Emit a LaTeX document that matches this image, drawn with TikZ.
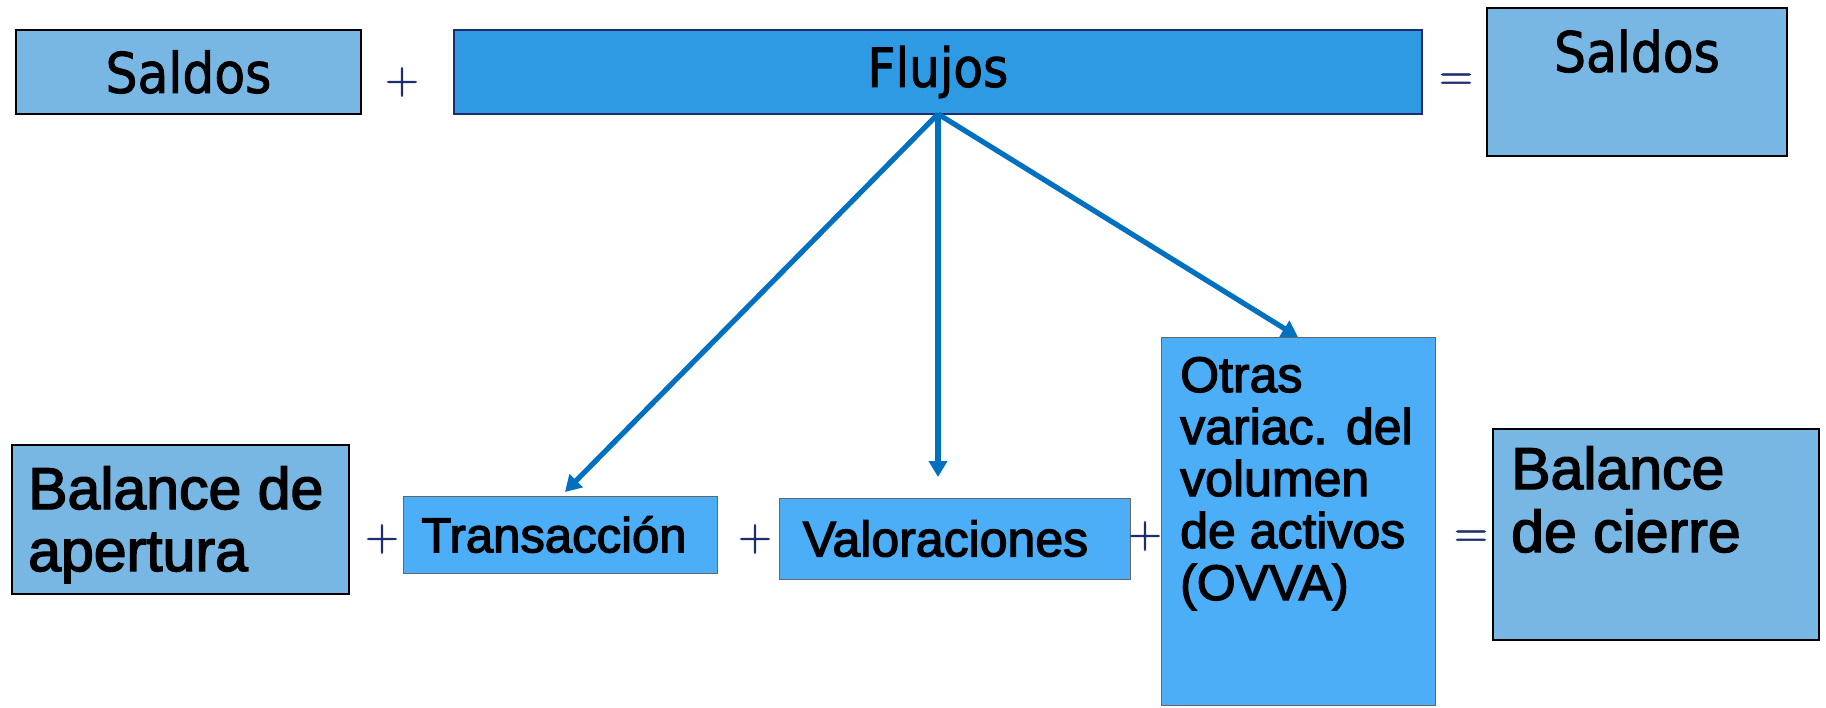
\documentclass[tikz,border=0pt]{standalone}
\usepackage{fontspec}
\setmainfont{Liberation Sans}[FakeBold=2.5]
\newfontfamily\tahomalike{DejaVu Sans Condensed}[FakeBold=1.5]
\newfontfamily\lmr{Latin Modern Roman}[FakeBold=1.2]
\usetikzlibrary{arrows.meta,calc}
\definecolor{saldofill}{RGB}{120,183,227}
\definecolor{flujofill}{RGB}{46,154,227}
\definecolor{itemfill}{RGB}{75,174,247}
\definecolor{opnavy}{RGB}{31,45,110}
\definecolor{arrowblue}{RGB}{0,112,192}
\newcommand{\fsz}[2]{\fontsize{#1}{#2}\selectfont}
\tikzset{
  boxbase/.style={rectangle, inner sep=0pt, outer sep=0pt, anchor=north west},
  saldobox/.style={boxbase, fill=saldofill, draw=black, line width=2pt},
  flujobox/.style={boxbase, fill=flujofill, draw=opnavy, line width=1.6pt},
  itembox/.style={boxbase, fill=itemfill, draw=black!60, line width=1pt},
  opsign/.style={text=opnavy, inner sep=0pt, font=\lmr\fsz{47}{47}},
  txt/.style={inner sep=0pt, text=black, align=left},
  flow/.style={draw=arrowblue, line width=5.2pt, -{Triangle[length=16pt,width=18pt]}}
}
\begin{document}
\begin{tikzpicture}[x=1pt,y=-1pt]
\useasboundingbox (0,0) rectangle (1826,707);
% top row
\node[saldobox, minimum width=345pt, minimum height=84pt, font=\tahomalike\fsz{56}{56}] (s1) at (16,30) {Saldos};
\node[flujobox, minimum width=968pt, minimum height=84pt, font=\tahomalike\fsz{54}{54}] (fl) at (454,30) {Flujos};
\node[saldobox, minimum width=300pt, minimum height=148pt] (s2) at (1487,8) {};
\node[txt, anchor=base, font=\tahomalike\fsz{56}{56}] (s2t) at ($(s2.north)+(0,64)$) {Saldos};
\node[opsign] (p0) at (402,82) {+};
\node[opsign] (e0) at (1456,82) {=};
% bottom row
\node[saldobox, minimum width=337pt, minimum height=149pt] (ba) at (12,445) {};
\node[txt, anchor=base west, font=\fsz{59}{62}] (bat) at (28,571) {Balance de\\apertura};
\node[itembox, minimum width=314pt, minimum height=77pt, font=\fsz{49}{49}] (tr) at (403,496) {Transacción\hspace*{12pt}};
\node[itembox, minimum width=351pt, minimum height=81pt, font=\fsz{50}{50}] (va) at (779,498) {Valoraciones\hspace*{18pt}};
\node[itembox, minimum width=274pt, minimum height=368pt] (ov) at (1161,337) {};
\node[txt, anchor=base west, font=\fsz{50}{52}] (ovt) at (1180,600) {Otras\\variac. del\\volumen\\de activos\\(OVVA)};
\node[saldobox, minimum width=326pt, minimum height=211pt] (bc) at (1493,429) {};
\node[txt, anchor=base west, font=\fsz{59}{63}] (bct) at (1511,552) {Balance\\de cierre};
\node[opsign] (p1) at (382,539) {+};
\node[opsign] (p2) at (755,539) {+};
\node[opsign] (p3) at (1145,536) {+};
\node[opsign] (e1) at (1471,539) {=};
% arrows
\coordinate (a1) at ($(tr.north)+(5,-4)$);
\coordinate (a2) at ($(fl.south)+(0,363)$);
\draw[flow] (fl.south) -- (a1);
\draw[flow] (fl.south) -- (a2);
\draw[flow] (fl.south) -- (ov.north);
\end{tikzpicture}
\end{document}
